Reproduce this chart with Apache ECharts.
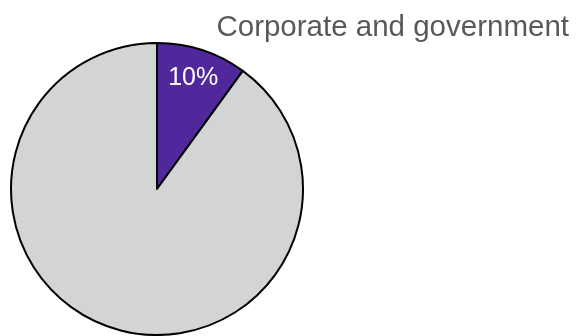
<!DOCTYPE html>
<html>
<head>
    <meta charset="utf-8">
    <title>index</title>
    <style>
        body { margin: 0; background: #fff; }
    </style>
</head>
<body>
    <div id="main" style="width: 580px;height:336px;"></div>
    <script src="https://cdn.jsdelivr.net/npm/echarts@6/dist/echarts.min.js"></script>
    <script>
        var categories = ['Corporate and government', 'Other'];
        var values = [10, 90];
        var colors = ['#51289b', '#d3d4d4'];

        var myChart = echarts.init(document.getElementById('main'));

        var pieData = categories.map(function (name, i) {
            return { name: name, value: values[i], itemStyle: { color: colors[i] } };
        });

        var option = {
            backgroundColor: '#fff',
            animation: false,
            title: {
                text: categories[0],
                right: 6,
                top: 8,
                textStyle: {
                    fontFamily: 'Liberation Sans, Arial, sans-serif',
                    fontWeight: 'normal',
                    fontSize: 29.5,
                    color: '#595959'
                }
            },
            series: [
                // 饼图本体
                {
                    type: 'pie',
                    center: [157, 189],
                    radius: 146,
                    startAngle: 90,
                    clockwise: true,
                    silent: true,
                    data: pieData,
                    itemStyle: {
                        borderColor: '#000',
                        borderWidth: 2
                    },
                    label: { show: false },
                    labelLine: { show: false }
                },
                // 只用来放百分比标签，位置靠外一点
                {
                    type: 'pie',
                    center: [157, 189],
                    radius: [82, 146],
                    startAngle: 90,
                    clockwise: true,
                    silent: true,
                    data: pieData.map(function (d, i) {
                        return {
                            name: d.name,
                            value: d.value,
                            itemStyle: { color: 'transparent' },
                            label: { show: i === 0 }
                        };
                    }),
                    label: {
                        position: 'inside',
                        formatter: '{c}%',
                        color: '#fff',
                        fontSize: 25,
                        fontFamily: 'Liberation Sans, Arial, sans-serif'
                    },
                    labelLine: { show: false }
                }
            ]
        };

        myChart.setOption(option);
    </script>
</body>
</html>
